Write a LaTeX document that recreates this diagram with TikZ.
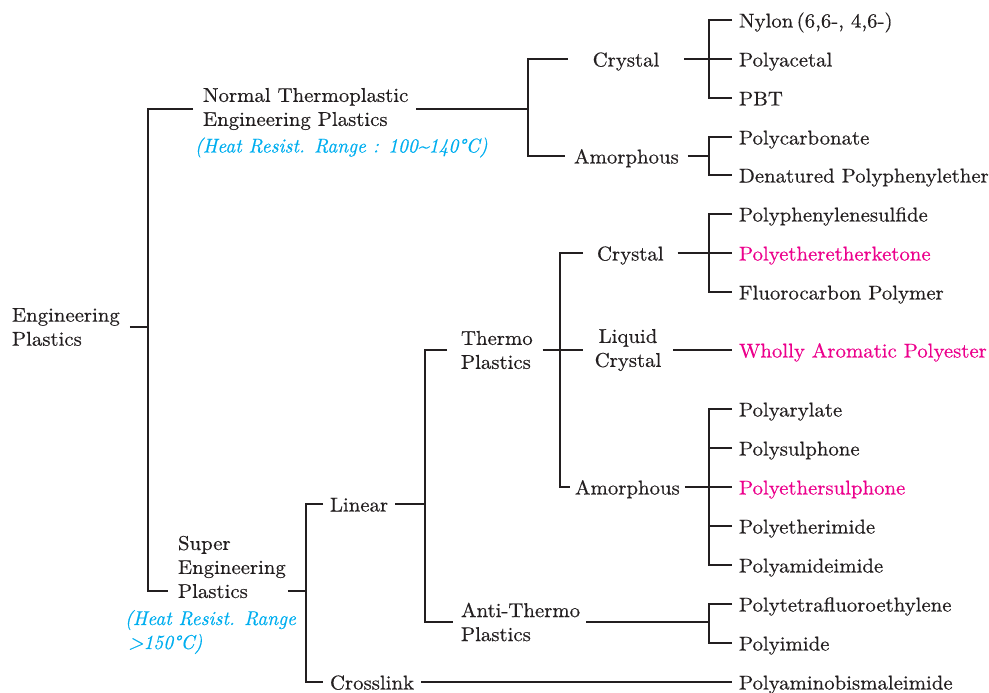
\documentclass[tikz,border=0pt]{standalone}
\usepackage{fontspec}
\usepackage{tikz}
\usetikzlibrary{positioning,calc}
\newfontfamily\treerm{lmroman10-regular.otf}[FakeStretch=1.04,FakeBold=0.5]
\newfontfamily\treeit{lmroman10-italic.otf}[FakeStretch=0.97,FakeBold=0.5]
\definecolor{ink}{RGB}{35,31,32}
\definecolor{heatblue}{RGB}{0,174,239}
\definecolor{hotpink}{RGB}{236,0,140}
\tikzset{
    every picture/.style={line width=1.3pt},
    txt/.style={inner sep=0pt,outer sep=0pt,text=ink,font=\treerm\fontsize{20}{24}\selectfont},
    lbl/.style={txt,text height=15pt,text depth=0pt},
    blk/.style={txt,align=left},
    leaf/.style={lbl,anchor=west,outer xsep=7pt},
    hot/.style={text=hotpink},
    heatrng/.style={txt,text=heatblue,font=\treeit\fontsize{20}{24}\selectfont}
}

\begin{document}
\begin{tikzpicture}[x=1pt,y=-1pt]
        \useasboundingbox (0,0) rectangle (989,693);
        \begin{scope}[draw=ink]
        % Main groups
        \node[blk,anchor=west,outer xsep=10pt] (root) at (2,327) {Engineering\\Plastics};
        \node[blk,anchor=west,outer xsep=8pt] (ntep) at (195,109) {Normal Thermoplastic\\Engineering Plastics};
        \node[lbl,heatrng,anchor=west] (ntepr) at (195,145) {(Heat Resist. Range : 100\textasciitilde140\textdegree C)};
        \node[blk,anchor=west,outer xsep=2pt] (sep) at (176,567) {Super\\Engineering\\Plastics};
        \node[heatrng,align=left,anchor=west] (sepr) at (125,632) {(Heat Resist. Range\\\,>150\textdegree C)};
        
        % Sub groups
        \node[lbl,outer xsep=25pt] (cry1) at (626,59) {Crystal};
        \node[lbl,anchor=west,outer xsep=9pt] (amo1) at (565,156) {Amorphous};
        \node[lbl,anchor=west,outer xsep=7pt] (linear) at (323,504) {Linear};
        \node[lbl,anchor=west,outer xsep=7pt] (cross) at (323,682) {Crosslink};
        \node[blk,anchor=west,outer xsep=10pt] (thermo) at (451,350) {Thermo\\Plastics};
        \node[blk,anchor=west,outer xsep=6pt] (anti) at (455,622) {Anti-Thermo\\Plastics};
        \node[lbl,anchor=west,outer xsep=14pt] (cry2) at (583,253) {Crystal};
        \node[blk,align=center,outer xsep=12pt] (liq) at (628,350) {Liquid\\Crystal};
        \node[lbl,anchor=west,outer xsep=5pt] (amo2) at (570,487) {Amorphous};
        
        % Materials
        \node[leaf] (nylon) at (732,20) {Nylon\,(6,6-, 4,6-)};
        \node[leaf] (pacet) at (732,59) {Polyacetal};
        \node[leaf] (pbt) at (732,98) {PBT};
        \node[leaf] (pcarb) at (732,137) {Polycarbonate};
        \node[leaf] (dppe) at (732,175) {Denatured Polyphenylether};
        \node[leaf] (pps) at (732,214) {Polyphenylenesulfide};
        \node[leaf,hot] (peek) at (732,253) {Polyetheretherketone};
        \node[leaf] (fcp) at (732,292) {Fluorocarbon Polymer};
        \node[leaf,hot] (wap) at (732,350) {Wholly Aromatic Polyester};
        \node[leaf] (par) at (732,409) {Polyarylate};
        \node[leaf] (psu) at (732,448) {Polysulphone};
        \node[leaf,hot] (pes) at (732,487) {Polyethersulphone};
        \node[leaf] (pei) at (732,526) {Polyetherimide};
        \node[leaf] (pai) at (732,565) {Polyamideimide};
        \node[leaf] (ptfe) at (732,604) {Polytetrafluoroethylene};
        \node[leaf] (pi) at (732,643) {Polyimide};
        \node[leaf] (pabm) at (732,682) {Polyaminobismaleimide};
        
        % Junctions
        \coordinate (j0) at (148,327);
        \coordinate (j1) at (306,591);
        \coordinate (j2) at (425,504);
        \coordinate (j3) at (560,350);
        \coordinate (j4) at (709,253);
        \coordinate (j5) at (709,487);
        \coordinate (j6) at (709,622);
        \coordinate (j7) at (528,109);
        \coordinate (j8) at (709,156);
        \coordinate (j9) at (709,59);
        
        % Brackets
        \draw (root.east) -- (j0);
        \draw ([xshift=-2pt]ntep.west) -| (j0) |- ([yshift=-24pt,xshift=-8pt]sep.west);
        \draw (ntep.east) -- (j7);
        \draw (cry1.west) -| (j7) |- (amo1.west);
        \draw (cry1.east) -- (pacet.west);
        \draw (nylon.west) -| (j9) |- (pbt.west);
        \draw (amo1.east) -- (j8);
        \draw (pcarb.west) -| (j8) |- (dppe.west);
        
        \draw ([yshift=-24pt]sep.east) -- (j1);
        \draw (linear.west) -| (j1) |- (cross.west);
        \draw (cross.east) -- (pabm.west);
        \draw (linear.east) -- (j2);
        \draw ([xshift=-4pt]thermo.west) -| (j2) |- ([xshift=-2pt]anti.west);
        \draw (thermo.east) -- (liq.west);
        \draw (cry2.west) -| (j3) |- (amo2.west);
        \draw (cry2.east) -- (peek.west);
        \draw (pps.west) -| (j4) |- (fcp.west);
        \draw (liq.east) -- (wap.west);
        \draw (amo2.east) -- (pes.west);
        \draw (par.west) -| (j5) |- (pai.west);
        \draw (psu.west) -- (psu.west -| j5);
        \draw (pei.west) -- (pei.west -| j5);
        \draw (anti.east) -- (j6);
        \draw (ptfe.west) -| (j6) |- (pi.west);
        \end{scope}
    \end{tikzpicture}
\end{document}
